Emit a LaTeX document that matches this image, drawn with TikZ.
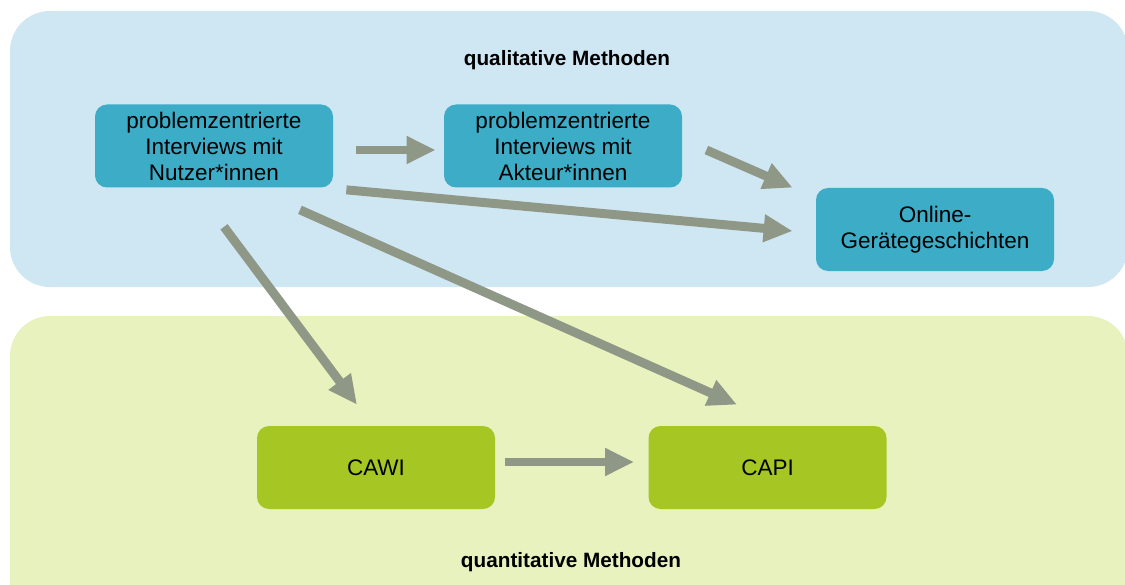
\documentclass[tikz,border=0pt]{standalone}
\usepackage{fontspec}
\setmainfont{Liberation Sans}
\usetikzlibrary{arrows.meta}
\definecolor{qualbg}{HTML}{CFE7F2}
\definecolor{quantbg}{HTML}{E8F2BF}
\definecolor{qualfill}{HTML}{3DACC7}
\definecolor{quantfill}{HTML}{A6C723}
\definecolor{flowgray}{HTML}{8F9786}
\begin{document}
\begin{tikzpicture}[
  panel/.style={rounded corners=0.8cm},
  method/.style={rounded corners=0.24cm,minimum width=4.76cm,minimum height=1.66cm,inner sep=0pt,align=center,font=\fontsize{12.8}{14.8}\selectfont},
  qualbox/.style={method,fill=qualfill},
  quantbox/.style={method,fill=quantfill},
  heading/.style={font=\fontsize{11.8}{13}\selectfont\bfseries},
  flow/.style={flowgray,line width=5.1pt,-{Triangle[length=16.5pt,width=14.8pt]}}]
\useasboundingbox (0,0) rectangle (22.5,-11.7);
\fill[qualbg,panel] (0.2,-0.22) rectangle (22.56,-5.74);
\fill[quantbg,panel] (0.2,-6.32) rectangle (22.56,-12.8);
\node[heading] (qualtitle) at (11.34,-1.2) {qualitative Methoden};
\node[heading] (quanttitle) at (11.42,-11.24) {quantitative Methoden};
\node[qualbox] (nutzer) at (4.28,-2.92) {problemzentrierte\\Interviews mit\\Nutzer*innen};
\node[qualbox] (akteur) at (11.26,-2.92) {problemzentrierte\\Interviews mit\\Akteur*innen};
\node[qualbox] (online) at (18.7,-4.59) {Online-\\Gerätegeschichten};
\node[quantbox] (cawi) at (7.52,-9.35) {CAWI};
\node[quantbox] (capi) at (15.35,-9.35) {CAPI};
% Verbindungen
\draw[flow] ([shift={(0.46,-0.08)}]nutzer.east) -- ([shift={(-0.16,-0.08)}]akteur.west);
\draw[flow] ([shift={(0.48,-0.08)}]akteur.east) -- ([shift={(-0.46,0)}]online.north west);
\draw[flow] ([shift={(0.26,-0.04)}]nutzer.south east) -- ([shift={(-0.46,-0.03)}]online.west);
\draw[flow] ([shift={(1.72,-0.44)}]nutzer.south) -- ([shift={(-0.61,0.42)}]capi.north);
\draw[flow] ([shift={(0.2,-0.78)}]nutzer.south) -- ([shift={(-0.38,0.42)}]cawi.north);
\draw[flow] ([shift={(0.2,0.11)}]cawi.east) -- ([shift={(-0.28,0.11)}]capi.west);
\end{tikzpicture}
\end{document}
